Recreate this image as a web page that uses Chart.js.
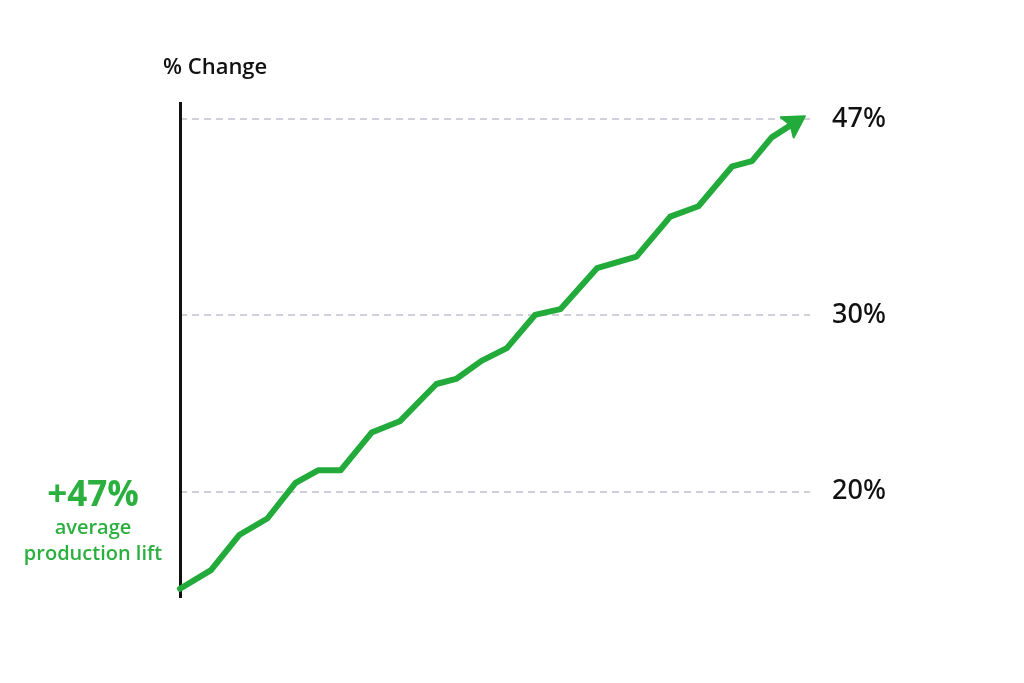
<!DOCTYPE html>
<html>
<head>
<meta charset="utf-8">
<title>% Change</title>
<script src="https://cdn.jsdelivr.net/npm/chart.js@4.4.1/dist/chart.umd.min.js"></script>
<style>
  html, body { margin: 0; padding: 0; background: #fff; }
  #wrap { width: 1024px; height: 683px; position: relative; }
</style>
</head>
<body>
<div id="wrap"><canvas id="myChart"></canvas></div>
<script>
// step positions along the period
const steps = [0, 1.1, 2.1, 3.1, 4.1, 4.9, 5.7, 6.8, 7.8, 9.1, 9.8, 10.7,
  11.6, 12.6, 13.5, 14.8, 16.2, 17.4, 18.4, 19.6, 20.3, 21.0, 22.0];
// % change at each step
const changes = [16.0, 16.7, 18.1, 18.8, 20.4, 21.0, 21.0, 22.9, 23.5, 25.6, 25.9, 27.0,
  27.8, 30.0, 30.4, 33.4, 34.3, 37.6, 38.5, 42.2, 42.7, 45.1, 47.0];
const tickValues = [20, 30, 47];
const axisTitle = "% Change";
const calloutLines = ["+47%", "average", "production lift"];

const green = "#22aa3a";

const arrowHead = {
  id: "arrowHead",
  afterDatasetsDraw(chart) {
    const pts = chart.getDatasetMeta(0).data;
    if (pts.length < 2) return;
    const a = pts[pts.length - 2], b = pts[pts.length - 1];
    const ang = Math.atan2(b.y - a.y, b.x - a.x);
    const ctx = chart.ctx;
    ctx.save();
    ctx.translate(b.x, b.y);
    ctx.rotate(ang);
    ctx.fillStyle = green;
    ctx.lineJoin = "round";
    ctx.strokeStyle = green;
    ctx.lineWidth = 2;
    ctx.beginPath();
    ctx.moveTo(6, 0);
    ctx.lineTo(-15, -12);
    ctx.lineTo(-11, 0);
    ctx.lineTo(-15, 12);
    ctx.closePath();
    ctx.fill();
    ctx.stroke();
    ctx.restore();
  }
};

const labelsPlugin = {
  id: "labelsPlugin",
  afterDraw(chart) {
    const ctx = chart.ctx;
    const area = chart.chartArea;
    ctx.save();
    ctx.fillStyle = "#111";
    ctx.font = "600 22px 'Open Sans'";
    ctx.textAlign = "left";
    ctx.textBaseline = "middle";
    ctx.fillText(axisTitle, area.left - 17, 68);

    ctx.fillStyle = "#2bb040";
    ctx.textAlign = "center";
    ctx.textBaseline = "alphabetic";
    const cx = 93;
    ctx.font = "bold 35px 'Open Sans'";
    ctx.fillText(calloutLines[0], cx, 506);
    ctx.font = "600 20px 'Open Sans'";
    ctx.fillText(calloutLines[1], cx, 534);
    ctx.fillText(calloutLines[2], cx, 560);
    ctx.restore();
  }
};

const ctx = document.getElementById("myChart");

new Chart(ctx, {
  type: "line",
  data: {
    datasets: [
      {
        data: steps.map((s, i) => ({ x: s, y: changes[i] })),
        borderColor: green,
        borderWidth: 6,
        borderJoinStyle: "round",
        borderCapStyle: "round",
        pointRadius: 0,
        tension: 0,
        clip: false,
      },
    ],
  },
  options: {
    responsive: true,
    maintainAspectRatio: false,
    animation: false,
    layout: { padding: { left: 180, top: 103, bottom: 86, right: 0 } },
    plugins: {
      legend: { display: false },
      tooltip: { enabled: false },
    },
    scales: {
      x: {
        type: "linear",
        min: 0,
        max: 22.36,
        display: false,
      },
      y: {
        type: "logarithmic",
        position: "right",
        min: 15.7,
        max: 48.8,
        afterBuildTicks: (scale) => {
          scale.ticks = tickValues.map((v) => ({ value: v }));
        },
        afterFit: (scale) => {
          scale.width = 214;
        },
        grid: {
          color: "#d0d0da",
          lineWidth: 2,
          drawTicks: false,
        },
        border: { display: false, dash: [7, 5] },
        ticks: {
          autoSkip: false,
          padding: 22,
          color: "#111",
          font: { family: "'Noto Sans'", size: 27, weight: "500" },
          callback: (v) => v + "%",
        },
      },
      yLeft: {
        type: "linear",
        position: "left",
        grid: { display: false, drawTicks: false },
        ticks: { display: false },
        border: { display: true, color: "#111", width: 3 },
        afterFit: (scale) => {
          scale.width = 0;
        },
      },
    },
  },
  plugins: [arrowHead, labelsPlugin],
});
</script>
</body>
</html>
